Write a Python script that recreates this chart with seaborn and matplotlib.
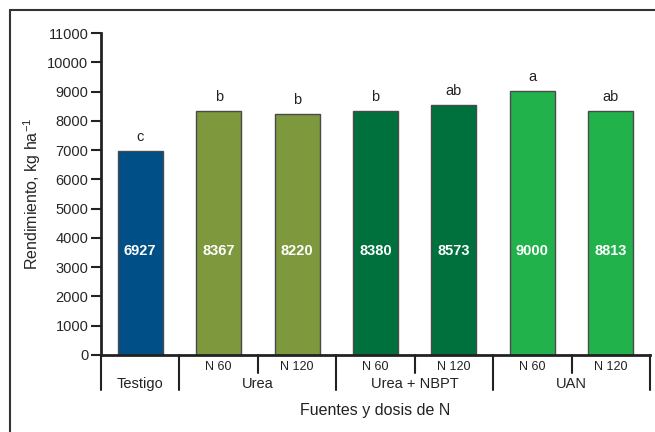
import pandas as pd
import matplotlib.pyplot as plt
from matplotlib.lines import Line2D
import seaborn as sns

# data
groups = ["Testigo", "Urea", "Urea + NBPT", "UAN"]
doses = [[""], ["N 60", "N 120"], ["N 60", "N 120"], ["N 60", "N 120"]]
bar_height = [6980, 8330, 8220, 8350, 8535, 9030, 8320]
bar_label = ["6927", "8367", "8220", "8380", "8573", "9000", "8813"]
letters = ["c", "b", "b", "b", "ab", "a", "ab"]
group_colors = ["#004F87", "#7E983D", "#00703C", "#22B24C"]

sns.set_style("white")
plt.rcParams["font.family"] = ["Liberation Sans", "DejaVu Sans"]
plt.rcParams["mathtext.fontset"] = "custom"
plt.rcParams["mathtext.rm"] = "Liberation Sans"

rows = []
for g, ds, c in zip(groups, doses, group_colors):
    for d in ds:
        rows.append({"trat": (g + " " + d).strip(), "grupo": g, "dosis": d, "color": c})
df = pd.DataFrame(rows)
df["rend"] = bar_height
df["etiqueta"] = bar_label
df["letra"] = letters

fig = plt.figure(figsize=(6.55, 4.32), dpi=100)
ax = fig.add_axes([101 / 655, 1 - 355 / 432, 549 / 655, 322 / 432])

sns.barplot(data=df, x="trat", y="rend", hue="trat", palette=list(df["color"]),
            saturation=1, width=0.575, edgecolor="#4a4a4a", linewidth=1,
            legend=False, ax=ax)

ax.set_ylim(0, 11000)
ax.set_xlim(-0.5, len(df) - 0.5)
ax.set_yticks(range(0, 11001, 1000))
ax.tick_params(axis="y", direction="out", length=7, width=1.5, color="#222222",
               labelsize=10.5, pad=2, left=True)
ax.set_xticks([])
ax.set_xlabel("")
ax.set_ylabel("Rendimiento, kg ha$^{-1}$", fontsize=11.5, labelpad=3)
for s in ["top", "right"]:
    ax.spines[s].set_visible(False)
for s in ["left", "bottom"]:
    ax.spines[s].set_linewidth(2)
    ax.spines[s].set_color("#222222")

# letters and values on bars
for i, r in df.iterrows():
    ax.text(i, r["rend"] + 480, r["letra"], ha="center", va="center", fontsize=10.5, color="#222222")
    ax.text(i, 3550, r["etiqueta"], ha="center", va="center", fontsize=10.5,
            fontweight="bold", color="white")

# category frame below the axis
tr = ax.get_xaxis_transform()
kw = dict(transform=tr, clip_on=False, color="#222222", lw=1.5)
pos = 0
ax.plot([-0.5, -0.5], [0, -0.109], **kw)
for g, ds in zip(groups, doses):
    start = pos
    for j, d in enumerate(ds):
        ax.text(pos, -0.037, d, transform=tr, ha="center", va="center", fontsize=9, color="#222222")
        if j > 0:
            ax.plot([pos - 0.5, pos - 0.5], [0, -0.056], **kw)
        pos += 1
    ax.plot([pos - 0.5, pos - 0.5], [0, -0.109], **kw)
    ax.text((start + pos - 1) / 2, -0.09, g, transform=tr, ha="center", va="center",
            fontsize=10.5, color="#222222")

ax.text(0.5, -0.172, "Fuentes y dosis de N", transform=ax.transAxes, ha="center",
        va="center", fontsize=11.5, color="#222222")

# outer frame (top and left only, cut at the picture edge)
fig.add_artist(Line2D([10 / 655, 1], [1 - 10 / 432, 1 - 10 / 432], color="#333333", lw=1.5))
fig.add_artist(Line2D([10 / 655, 10 / 655], [0, 1 - 10 / 432], color="#333333", lw=1.5))

fig.savefig("out.png", dpi=100)
